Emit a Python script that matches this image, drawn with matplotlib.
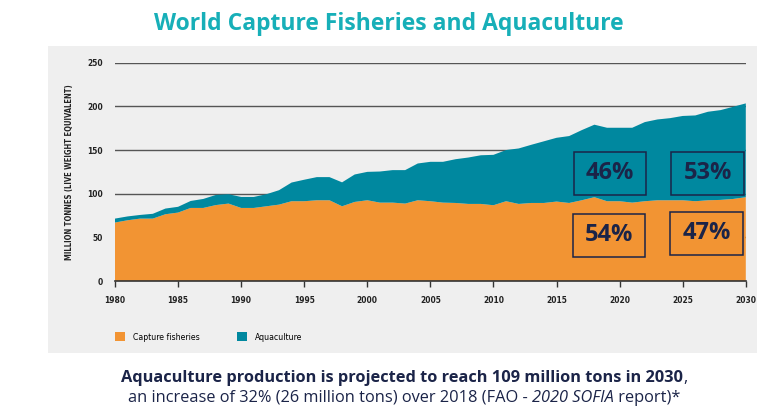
import matplotlib
matplotlib.use("Agg")
import matplotlib.pyplot as plt
from matplotlib.patches import Rectangle

# values (million tonnes)
years = list(range(1980, 2031))
total = [71.5, 74, 75.7, 77, 83, 85, 91.7, 94, 98.6, 99.4,
         96.3, 96.3, 99.4, 104, 112.8, 116, 119, 119, 113, 122,
         125, 125.4, 127, 127, 134.6, 136.5, 136.5, 139.5, 141.4, 144,
         144.5, 150, 151.8, 156, 160, 164, 166, 172.8, 179, 175.5,
         175.5, 175.5, 182, 185, 186.5, 189, 189.6, 193.8, 195.7, 199.5,
         203.4]
capture = [67, 69.6, 71.5, 71.5, 76.5, 78.4, 83.7, 83.7, 87, 88.7,
           83.7, 83.7, 85.6, 87.5, 91.4, 91.4, 92.5, 92.5, 85.6, 90.6,
           92.5, 89.8, 89.8, 88.7, 92.5, 91.4, 89.8, 89.4, 88.3, 88.3,
           86.8, 91.4, 88.3, 89.4, 89.4, 91, 89.4, 92.5, 96, 91.4,
           91.4, 89.8, 91.4, 92.5, 92.5, 92.5, 91.4, 92.5, 92.9, 94,
           96]
aquaculture = [t - c for t, c in zip(total, capture)]

share_labels = ["46%", "53%", "54%", "47%"]
share_x = [2016.35, 2024.1, 2016.3, 2024.0]
share_y = [98.6, 98.6, 27.5, 29.8]

series_names = ["Capture fisheries", "Aquaculture"]

ORANGE = "#F29433"
TEAL = "#00889F"
NAVY = "#1B2448"

fig = plt.figure(figsize=(7.57, 4.17), dpi=100)
fig.patch.set_facecolor("white")

# grey panel behind the chart
fig.patches.append(Rectangle((0.0634, 0.1535), 0.94, 0.736, transform=fig.transFigure,
                             facecolor="#EFEFEF", edgecolor="none", zorder=-5))

ax = fig.add_axes([0.1519, 0.326, 0.8333, 0.5237])
ax.set_zorder(2)
ax.set_facecolor("none")
ax.stackplot(years, capture, aquaculture, colors=[ORANGE, TEAL],
             labels=series_names, zorder=2)
ax.set_xlim(1980, 2030)
ax.set_ylim(0, 250)
ax.set_xticks(range(1980, 2031, 5))
ax.set_yticks(range(0, 251, 50))
for v in range(50, 251, 50):
    ax.axhline(v, color="#555555", lw=1.0, zorder=1)
for s in ["top", "right", "left"]:
    ax.spines[s].set_visible(False)
ax.spines["bottom"].set_color("#333333")
ax.spines["bottom"].set_linewidth(1.2)
ax.spines["bottom"].set_zorder(3)
ax.tick_params(axis="x", length=4, width=1, color="#333333", pad=7)
ax.tick_params(axis="y", length=0, pad=8.5)
for lab in ax.get_xticklabels() + ax.get_yticklabels():
    lab.set_family("DejaVu Sans")
    lab.set_stretch("condensed")
    lab.set_fontweight("bold")
    lab.set_fontsize(6)
    lab.set_color("#222222")
ax.set_ylabel("MILLION TONNES (LIVE WEIGHT EQUIVALENT)", family="DejaVu Sans",
              stretch="condensed", fontweight="bold", fontsize=5.5, color="#222222",
              labelpad=10)

# percentage boxes
for lab, x0, y0 in zip(share_labels, share_x, share_y):
    w, h = 5.75, 49.4
    ax.add_patch(Rectangle((x0, y0), w, h, facecolor="none", edgecolor=NAVY,
                           lw=1.1, zorder=4))
    ax.text(x0 + w / 2, y0 + h / 2, lab, ha="center", va="center",
            family="Open Sans", fontweight="bold", fontsize=17, color=NAVY, zorder=5)

# legend
fig.legend(loc="center left", bbox_to_anchor=(0.1418, 0.192), ncol=2, frameon=False,
           handlelength=1.16, handleheight=1.16, handletextpad=0.9, columnspacing=4.4,
           prop={"family": "DejaVu Sans", "stretch": "condensed", "size": 6.2})

fig.text(0.513, 0.942, "World Capture Fisheries and Aquaculture", ha="center",
         va="center", family="Open Sans", fontweight="bold", fontsize=16.5,
         color="#17AFB8")


def centered_line(segments, xc, yb):
    # segments: (text, weight, style); drawn left to right, centred at xc
    renderer = fig.canvas.get_renderer()
    arts = []
    for txt, wt, st in segments:
        t = fig.text(0, yb, txt, ha="left", va="baseline", family="Open Sans",
                     fontweight=wt, fontstyle=st, fontsize=11.8, color=NAVY)
        arts.append(t)
    widths = [a.get_window_extent(renderer).width for a in arts]
    figw = fig.bbox.width
    x = xc * figw - sum(widths) / 2
    for a, w in zip(arts, widths):
        a.set_x(x / figw)
        x += w


centered_line([("Aquaculture production is projected to reach 109 million tons in 2030",
                "bold", "normal"), (",", "normal", "normal")], 0.534, 0.085)
centered_line([("an increase of 32% (26 million tons) over 2018 (FAO - ", "normal", "normal"),
               ("2020 SOFIA", "normal", "italic"),
               (" report)*", "normal", "normal")], 0.534, 0.037)

fig.savefig("out.png", dpi=100)
